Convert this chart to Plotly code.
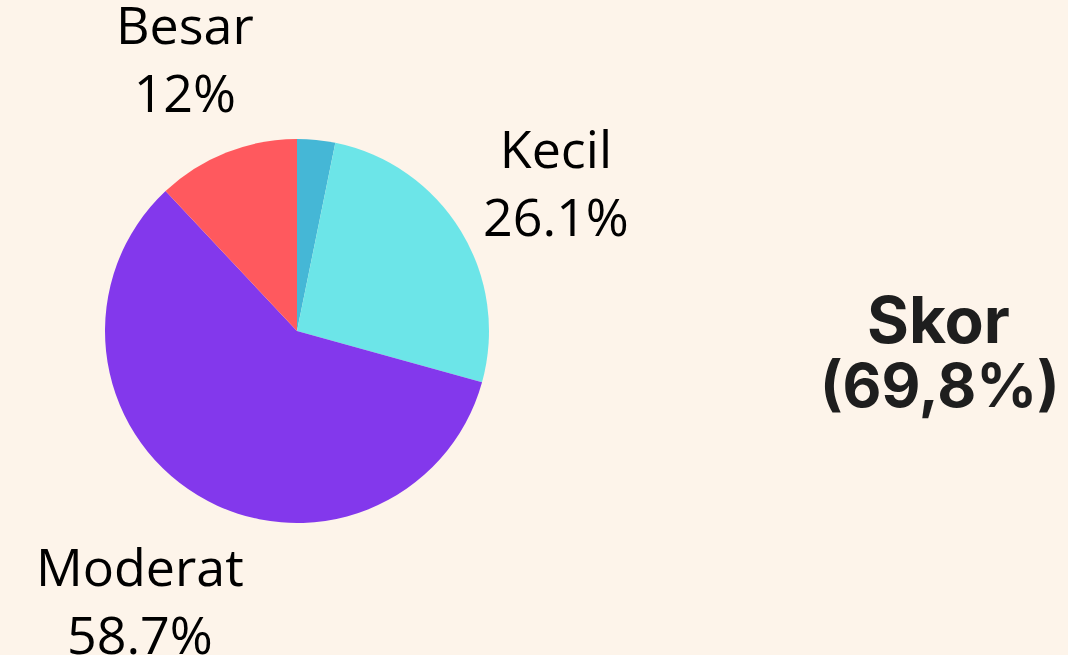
import math
import plotly.graph_objects as go

labels = ["Sangat Kecil", "Kecil", "Moderat", "Besar"]
values = [3.2, 26.1, 58.7, 12.0]
colors = ["#45B7D6", "#6CE5E8", "#8338EC", "#FF595E"]
show_label = [False, True, True, True]
score_title = "Skor"
score_value = "(69,8%)"

W, H = 1068, 655
CX, CY, R = 297, 331, 192  # pie placement in pixels

fig = go.Figure()
fig.add_trace(go.Pie(
    labels=labels,
    values=values,
    sort=False,
    direction="clockwise",
    rotation=0,
    automargin=False,
    marker=dict(colors=colors, line=dict(width=0)),
    textinfo="none",
    hoverinfo="label+percent",
    showlegend=False,
    domain=dict(x=[(CX - R) / W, (CX + R) / W], y=[1 - (CY + R) / H, 1 - (CY - R) / H]),
))

# outside labels placed along each slice's bisector
total = sum(values)
cum = 0.0
for lab, v, show in zip(labels, values, show_label):
    mid = (cum + v / 2) / total
    cum += v
    if not show:
        continue
    ang = 2 * math.pi * mid
    d = 1.58 * R
    px = CX + d * math.sin(ang)
    py = CY - d * math.cos(ang) + 9
    pct = round(v / total * 100, 1)
    fig.add_annotation(x=px / W, y=1 - py / H, xref="paper", yref="paper",
                       xanchor="center", yanchor="middle", showarrow=False,
                       text=f"{lab}<br>{pct:g}%",
                       font=dict(family="Open Sans", size=52, color="#000000"))

fig.add_annotation(x=938 / W, y=1 - 320 / H, xref="paper", yref="paper",
                   xanchor="center", yanchor="middle",
                   text=score_title, showarrow=False,
                   font=dict(family="Inter", size=64, color="#1E1E1E", weight="bold"))
fig.add_annotation(x=940 / W, y=1 - 385 / H, xref="paper", yref="paper",
                   xanchor="center", yanchor="middle",
                   text=score_value, showarrow=False,
                   font=dict(family="Inter", size=60, color="#1E1E1E", weight="bold"))
fig.update_layout(
    width=W, height=H,
    margin=dict(l=0, r=0, t=0, b=0, pad=0, autoexpand=False),
    paper_bgcolor="#FDF4EA",
    plot_bgcolor="#FDF4EA",
)
fig.write_html("out.html", config={"displayModeBar": False},
               post_script="document.body.style.margin='0';document.body.style.overflow='hidden';document.body.style.background='#FDF4EA';")
